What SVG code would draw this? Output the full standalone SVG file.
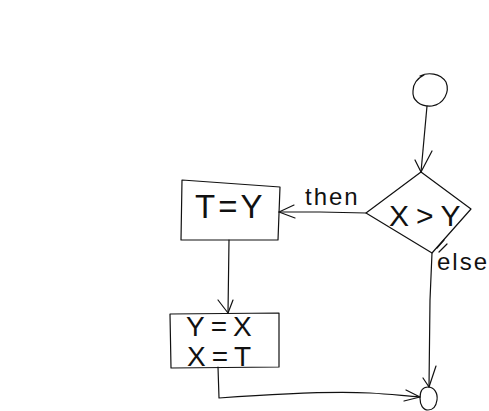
<svg xmlns="http://www.w3.org/2000/svg" width="489" height="411" viewBox="0 0 489 411">
<style>
.s{fill:none;stroke:#111;stroke-width:1.2;stroke-linecap:round;stroke-linejoin:round}
.t{font-family:"Liberation Sans",Arial,sans-serif;fill:#111}
.l{font-family:"Liberation Sans",Arial,sans-serif;fill:#111;font-size:24px;letter-spacing:2px}
</style>
<rect width="489" height="411" fill="#fff"/>
<g id="start">
<path class="s" d="M420,76 C428,72 440,73 446,82 C450,92 444,104 432,106 C420,107 412,100 413,91 C413,84 416,79 424,75"/>
</g>
<g id="decision">
<path class="s" d="M421,172 L471,209 L432,253 L366,213 Z"/>
<text class="t" x="389" y="226" font-size="30" letter-spacing="7">X&gt;Y</text>
</g>
<g id="assign1">
<path class="s" d="M182,180 L280,187 L278,240 L181,240 Z"/>
<text class="t" x="195" y="218" font-size="33" letter-spacing="3">T=Y</text>
</g>
<g id="assign2">
<path class="s" d="M170,314 L279,313 L279,367 L171,368 Z"/>
<text class="t" x="186" y="336" font-size="28" letter-spacing="6">Y=X</text>
<text class="t" x="187" y="366" font-size="28" letter-spacing="6">X=T</text>
</g>
<g id="end">
<path class="s" d="M428,387 C434,387 438,393 437,400 C436,407 432,410 428,410 C423,410 420,405 420,398 C420,391 423,387 428,387 Z"/>
</g>
<g id="connectors">
<path class="s" d="M427,106 L421,172"/>
<path class="s" d="M415,160 L421,172 L432,151"/>
<path class="s" d="M366,213 L320,212 L279,212"/>
<path class="s" d="M294,205 L279,212 L295,218"/>
<text class="l" x="305" y="205" letter-spacing="2.5">then</text>
<path class="s" d="M229,240 L228,313"/>
<path class="s" d="M218,300 L228,313 L233,300"/>
<path class="s" d="M432,253 L430,300 L429,387"/>
<path class="s" d="M423,378 L429,387 L436,366"/>
<path class="s" d="M437,248 L444,240 M439,252 L447,244"/>
<text class="l" x="437" y="270">else</text>
<path class="s" d="M218,367 L219,398 C260,395 330,391 370,393 C390,394 405,396 420,397"/>
<path class="s" d="M406,390 L420,397 L404,401"/>
</g>
</svg>
